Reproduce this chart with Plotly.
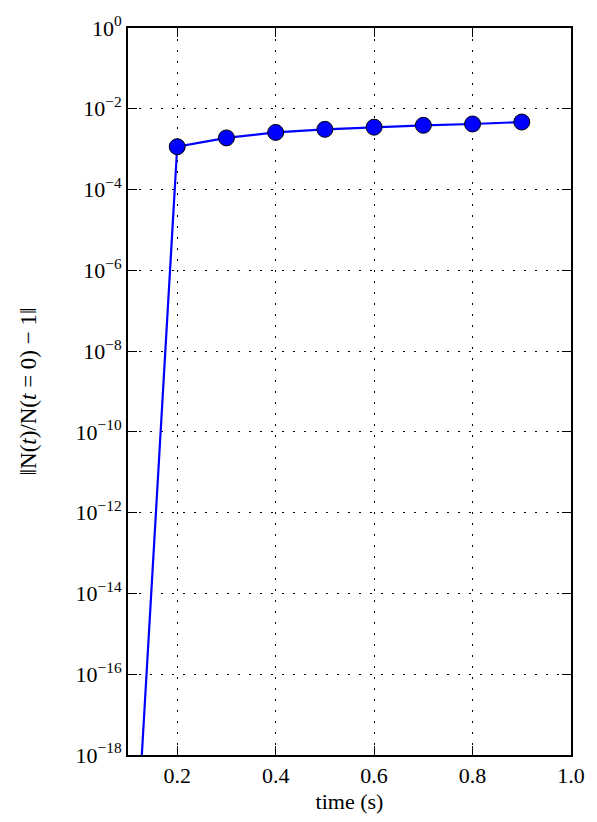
import plotly.graph_objects as go

# Data
time_s = [0.1, 0.2, 0.3, 0.4, 0.5, 0.6, 0.7, 0.8, 0.9]
rel_err = [1.3e-24, 1.15e-3, 1.9e-3, 2.6e-3, 3.1e-3, 3.5e-3, 3.9e-3, 4.2e-3, 4.7e-3]
marker_time = time_s[1:]
marker_err = rel_err[1:]

ytick_exps = [0, -2, -4, -6, -8, -10, -12, -14, -16, -18]
xtick_vals = [0.2, 0.4, 0.6, 0.8, 1.0]
xtick_text = ["0.2", "0.4", "0.6", "0.8", "1.0"]

font_family = "Liberation Serif, DejaVu Serif, serif"

fig = go.Figure()
fig.add_trace(go.Scatter(
    x=time_s, y=rel_err, mode="lines",
    line=dict(color="#0000ff", width=2.2),
    showlegend=False, hoverinfo="skip",
))
fig.add_trace(go.Scatter(
    x=marker_time, y=marker_err, mode="markers",
    marker=dict(color="#0000ff", size=16, line=dict(color="black", width=1)),
    showlegend=False, cliponaxis=False,
))

fig.update_layout(
    width=597, height=822,
    margin=dict(l=128, r=19, t=20, b=67),
    paper_bgcolor="white", plot_bgcolor="white",
    font=dict(family=font_family, size=22, color="black"),
)
fig.update_xaxes(
    range=[0.1, 1.0],
    tickvals=xtick_vals, ticktext=xtick_text,
    ticks="inside", ticklen=9, tickwidth=1.2, tickcolor="black",
    showline=True, linewidth=2, linecolor="black", mirror="ticks",
    showgrid=True, gridcolor="black", gridwidth=1, griddash="2px,9px",
    zeroline=False,
    tickfont=dict(size=22),
    title=dict(text="time (s)", font=dict(size=22), standoff=6),
)
fig.update_yaxes(
    type="log", range=[-18, 0],
    tickvals=[10.0 ** e for e in ytick_exps],
    ticktext=["10<sup>%s</sup>" % (str(e).replace("-", "\u2212")) for e in ytick_exps],
    ticks="inside", ticklen=9, tickwidth=1.2, tickcolor="black",
    showline=True, linewidth=2, linecolor="black", mirror="ticks",
    showgrid=True, gridcolor="black", gridwidth=1, griddash="2px,9px",
    zeroline=False,
    tickfont=dict(size=22),
    title=dict(text="\u2016N(<i>t</i>)/N(<i>t</i> = 0) \u2212 1\u2016", font=dict(size=23), standoff=32),
)

fig.write_html(
    "out.html",
    config={"displayModeBar": False},
    post_script=(
        "document.body.style.margin='0';"
        "document.body.style.overflow='hidden';"
        "document.documentElement.style.overflow='hidden';"
    ),
)
